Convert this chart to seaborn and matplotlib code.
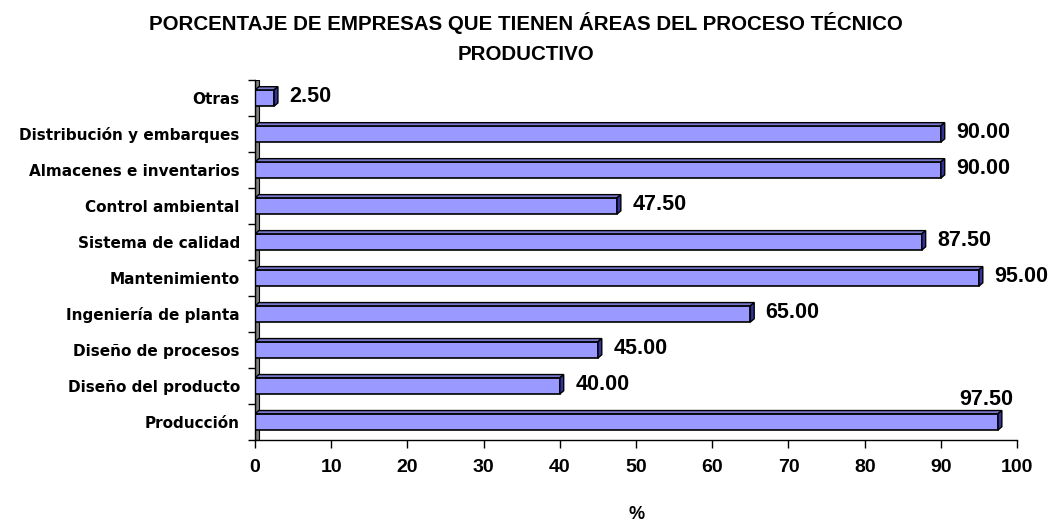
import matplotlib
matplotlib.use("Agg")
import matplotlib.pyplot as plt
import seaborn as sns
import pandas as pd
from matplotlib.patches import Polygon, Rectangle

categories = ["Otras", "Distribución y embarques", "Almacenes e inventarios",
              "Control ambiental", "Sistema de calidad", "Mantenimiento",
              "Ingeniería de planta", "Diseño de procesos", "Diseño del producto",
              "Producción"]
values = [2.50, 90.00, 90.00, 47.50, 87.50, 95.00, 65.00, 45.00, 40.00, 97.50]
xticks = [0, 10, 20, 30, 40, 50, 60, 70, 80, 90, 100]

sns.set_theme(style="white")
plt.rcParams['font.family'] = ['Liberation Sans', 'DejaVu Sans']
plt.rcParams['text.color'] = 'black'
plt.rcParams['axes.labelcolor'] = 'black'
plt.rcParams['xtick.color'] = 'black'
plt.rcParams['ytick.color'] = 'black'

df = pd.DataFrame({"cat": categories, "val": values})

fig = plt.figure(figsize=(10.54, 5.23), dpi=100)
ax = fig.add_axes([0.242, 0.159, 0.723, 0.688])

sns.barplot(data=df, y="cat", x="val", orient="h", color="#9999FF",
            saturation=1, width=0.45, edgecolor="black", linewidth=1.2, ax=ax)

ax.set_xlim(0, 100)
ax.set_ylim(len(categories) - 0.5, -0.5)

# pseudo-3D depth for each bar
dx, dy = 0.5, 0.09
for p in list(ax.patches):
    x0, y0 = p.get_x(), p.get_y()
    w, h = p.get_width(), p.get_height()
    top = Polygon([[x0, y0], [x0 + dx, y0 - dy], [x0 + w + dx, y0 - dy], [x0 + w, y0]],
                  closed=True, facecolor="#7777CC", edgecolor="black", linewidth=1.0, zorder=p.get_zorder())
    side = Polygon([[x0 + w, y0], [x0 + w + dx, y0 - dy], [x0 + w + dx, y0 + h - dy], [x0 + w, y0 + h]],
                   closed=True, facecolor="#333399", edgecolor="black", linewidth=1.0, zorder=p.get_zorder())
    ax.add_patch(top)
    ax.add_patch(side)

# grey wall on the left
ax.add_patch(Rectangle((0, -0.5), dx, len(categories), facecolor="#808080",
                       edgecolor="black", linewidth=0.8, zorder=0.5))

# value labels
for i, v in enumerate(values):
    if v > 96:
        ax.text(v + 2.0, i - 0.33, f"{v:.2f}", ha="right", va="bottom",
                fontsize=15.5, fontweight="bold", color="black")
    else:
        ax.text(v + 2.0, i - 0.05, f"{v:.2f}", ha="left", va="center",
                fontsize=15.5, fontweight="bold", color="black")

ax.set_xticks(xticks)
ax.set_xticklabels([str(t) for t in xticks], fontsize=14, fontweight="bold")
ax.set_yticks(range(len(categories)))
ax.set_yticklabels(categories, fontsize=11, fontweight="bold", family=["DejaVu Sans"])
ax.set_yticks([i - 0.5 for i in range(len(categories) + 1)], minor=True)
ax.tick_params(axis="y", which="major", length=0, pad=11)
ax.tick_params(axis="y", which="minor", length=5, width=1, color="black", direction="out", left=True)
ax.tick_params(axis="x", which="major", length=6, width=1, color="black", direction="out", bottom=True, pad=8)

for s in ["top", "right"]:
    ax.spines[s].set_visible(False)
ax.spines["left"].set_color("black")
ax.spines["bottom"].set_color("black")
ax.spines["left"].set_linewidth(1)
ax.spines["bottom"].set_linewidth(1)

ax.set_ylabel("")
ax.set_xlabel("")
fig.text(0.6035, 0.017, "%", ha="center", va="center", fontsize=13, fontweight="bold")

fig.suptitle("PORCENTAJE DE EMPRESAS QUE TIENEN ÁREAS DEL PROCESO TÉCNICO\nPRODUCTIVO",
             fontsize=14.8, fontweight="bold", x=0.499, y=0.978, linespacing=1.75)

fig.savefig("out.png", dpi=100)
